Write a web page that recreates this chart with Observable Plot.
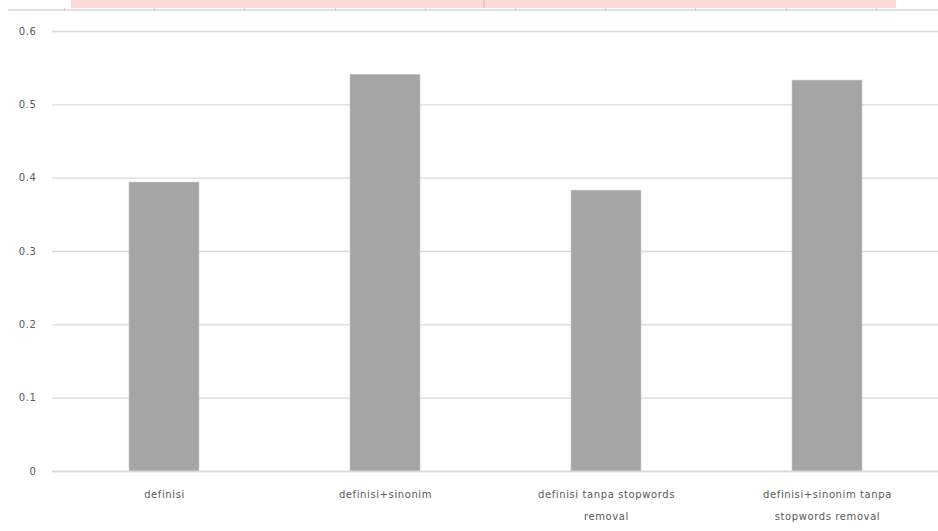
<!DOCTYPE html>
<html>
<head>
<meta charset="utf-8">
<script src="https://cdn.jsdelivr.net/npm/d3@7"></script>
<script src="https://cdn.jsdelivr.net/npm/@observablehq/plot@0.6"></script>
<style>
  html, body { margin: 0; padding: 0; background: #fff; }
  #wrap { position: relative; width: 938px; height: 531px; overflow: hidden; }
  #strip { position: absolute; left: 71px; top: 0; width: 825px; height: 8px; background: #ffd9da; }
  #strip-div { position: absolute; left: 483px; top: 0; width: 2px; height: 8px; background: #f2c4c6; }
  #strip-line { position: absolute; left: 8px; top: 9px; width: 930px; height: 2px; background: #e0e0e0; }
  #strip-ticks { position: absolute; left: 64px; top: 8px; width: 874px; height: 3px;
    background: repeating-linear-gradient(to right, #cfcfcf 0 1px, transparent 1px 90.2px); }
  svg text { letter-spacing: 0.6px; }
</style>
</head>
<body>
<div id="wrap">
  <div id="chart"></div>
  <div id="strip"></div>
  <div id="strip-div"></div>
  <div id="strip-line"></div>
  <div id="strip-ticks"></div>
</div>
<script>
const categories = [
  "definisi",
  "definisi+sinonim",
  "definisi tanpa stopwords removal",
  "definisi+sinonim tanpa stopwords removal"
];
const tickLabels = [
  "definisi",
  "definisi+sinonim",
  "definisi tanpa stopwords\nremoval",
  "definisi+sinonim tanpa\nstopwords removal"
];
const values = [0.394, 0.541, 0.383, 0.533];
const yTicks = [0, 0.1, 0.2, 0.3, 0.4, 0.5, 0.6];

const data = categories.map((c, i) => ({category: c, value: values[i]}));
const labelOf = new Map(categories.map((c, i) => [c, tickLabels[i]]));

const chart = Plot.plot({
  width: 938,
  height: 531,
  marginTop: 31,
  marginBottom: 60,
  marginLeft: 52,
  marginRight: 0,
  style: {fontFamily: "DejaVu Sans, sans-serif", fontSize: "10px", color: "#595959", background: "#fff"},
  x: {domain: categories, paddingInner: 0.684, paddingOuter: 0.342, label: null},
  y: {domain: [0, 0.6], label: null},
  marks: [
    Plot.gridY(yTicks, {stroke: "#d9d9d9", strokeOpacity: 1, strokeWidth: 1.3}),
    Plot.axisY(yTicks, {tickSize: 0, tickPadding: 16, tickFormat: d => d === 0 ? "0" : d3.format(".1f")(d), fill: "#595959", fontSize: 10, label: null}),
    Plot.barY(data, {x: "category", y: "value", fill: "#a5a5a5", stroke: "#c8c8c8", strokeWidth: 0.6}),
    Plot.ruleY([0], {stroke: "#d9d9d9", strokeWidth: 1.3}),
    Plot.axisX({tickSize: 0, tickPadding: 11, tickFormat: d => labelOf.get(d), lineHeight: 2.2, fill: "#595959", fontSize: 10, label: null})
  ]
});
document.getElementById("chart").appendChild(chart);
</script>
</body>
</html>
